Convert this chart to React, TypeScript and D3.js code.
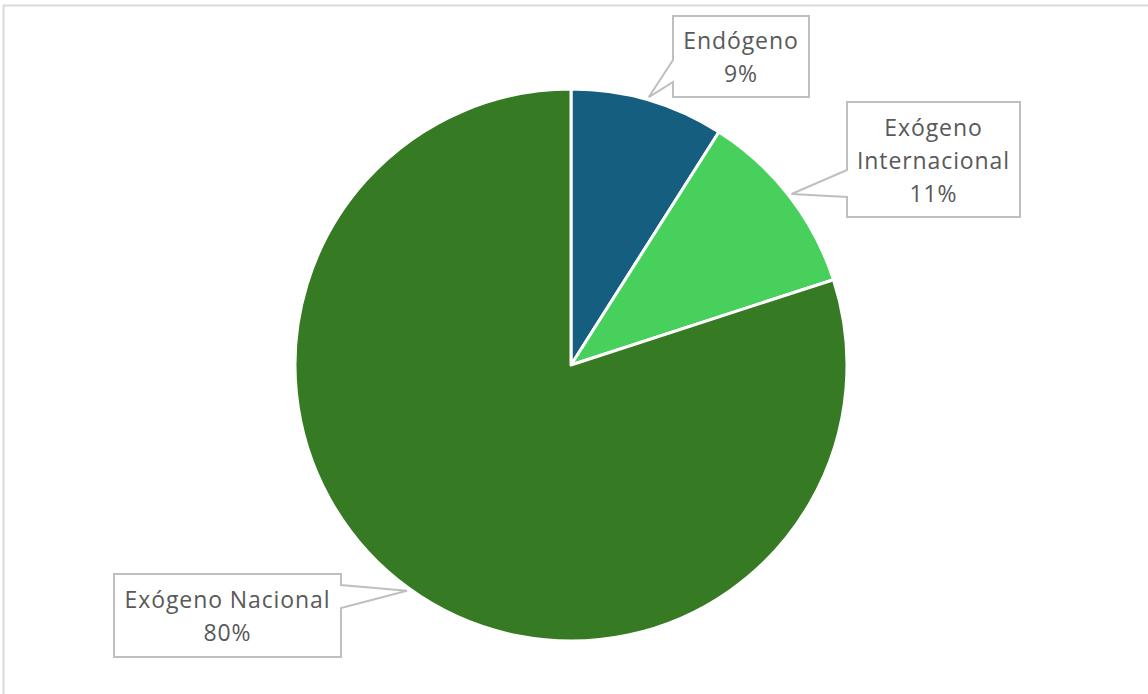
import React from "react";
import * as d3 from "d3";

const categories = ["Endógeno", "Exógeno Internacional", "Exógeno Nacional"];
const values = [9, 11, 80];
const labelLines = [["Endógeno", "9%"], ["Exógeno", "Internacional", "11%"], ["Exógeno Nacional", "80%"]];
const colors = ["#155E80", "#47D15C", "#377A24"];

// label box layout (x, y, width, height, side the pointer leaves from)
const boxes = [
  { x: 673, y: 16, w: 136, h: 81, side: "left", p1: 60, p2: 82 },
  { x: 847, y: 102, w: 173, h: 115, side: "left", p1: 170, p2: 197 },
  { x: 114, y: 574, w: 227, h: 83, side: "right", p1: 585, p2: 608 },
];

export default function App() {
  const W = 1148, H = 694;
  const cx = 571, cy = 365, r = 276;
  const pie = d3.pie<number>().sort(null).value((d) => d);
  const arcs = pie(values);
  const arc = d3.arc<d3.PieArcDatum<number>>().innerRadius(0).outerRadius(r);
  const tipArc = d3.arc<d3.PieArcDatum<number>>().innerRadius(r + 3).outerRadius(r + 3);
  const font = "'Open Sans', sans-serif";
  return (
    <svg width={W} height={H} style={{ position: "absolute", left: 0, top: 0 }}>
      <rect x={0} y={0} width={W} height={H} fill="#fff" />
      <rect x={3.5} y={5.5} width={W + 20} height={H + 20} fill="none" stroke="#D9D9D9" strokeWidth={2} />
      <g transform={`translate(${cx},${cy})`}>
        {arcs.map((a, i) => (
          <path key={categories[i]} d={arc(a) || ""} fill={colors[i]} stroke="#fff" strokeWidth={3} strokeLinejoin="round" />
        ))}
      </g>
      {arcs.map((a, i) => {
        const b = boxes[i];
        const [tx, ty] = tipArc.centroid(a);
        const px = tx + cx, py = ty + cy;
        let pts: [number, number][];
        if (b.side === "left") {
          pts = [
            [b.x, b.y], [b.x + b.w, b.y], [b.x + b.w, b.y + b.h], [b.x, b.y + b.h],
            [b.x, b.p2], [px, py], [b.x, b.p1],
          ];
        } else {
          pts = [
            [b.x, b.y], [b.x + b.w, b.y], [b.x + b.w, b.p1], [px, py], [b.x + b.w, b.p2],
            [b.x + b.w, b.y + b.h], [b.x, b.y + b.h],
          ];
        }
        const lines = labelLines[i];
        const lh = 33;
        const startY = b.y + b.h / 2 - ((lines.length - 1) * lh) / 2;
        return (
          <g key={categories[i]}>
            <polygon points={pts.map((p) => p.join(",")).join(" ")} fill="#fff" stroke="#BFBFBF" strokeWidth={2} />
            {lines.map((t, k) => (
              <text key={k} x={b.x + b.w / 2} y={startY + k * lh} textAnchor="middle" dominantBaseline="central"
                fontFamily={font} fontSize={23} letterSpacing={0.9} fill="#595959">{t}</text>
            ))}
          </g>
        );
      })}
    </svg>
  );
}
